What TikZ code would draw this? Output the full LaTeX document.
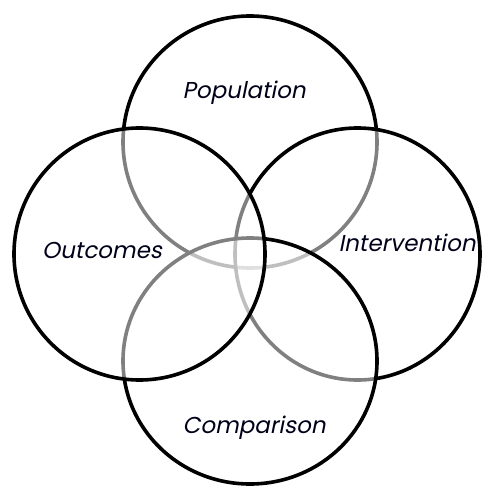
\documentclass[tikz,border=0pt]{standalone}
\usepackage{fontspec}
\usetikzlibrary{shapes.geometric}
\newfontfamily\labfont{Poppins}[FakeSlant=0.2]
\tikzset{
  venn/.style={ellipse, draw=black, line width=3.6pt, fill=white, fill opacity=0.5, inner sep=0pt, outer sep=0pt},
  lab/.style={font=\labfont\fontsize{23}{26}\selectfont, text=black!90!blue, inner sep=0pt}
}
\begin{document}
\begin{tikzpicture}[x=1pt,y=-1pt]
\useasboundingbox (0,0) rectangle (482,486);
\node[venn, minimum width=254pt, minimum height=252pt] (pop) at (250,142) {};
\node[venn, minimum width=245pt, minimum height=252pt] (int) at (357.5,254) {};
\node[venn, minimum width=254pt, minimum height=246pt] (com) at (250,361) {};
\node[venn, minimum width=251pt, minimum height=252pt] (out) at (139.5,254) {};
\node[lab] (tpop) at (244,93) {Population};
\node[lab] (tout) at (102,250) {Outcomes};
\node[lab] (tint) at (407,243) {Intervention};
\node[lab] (tcom) at (254,428) {Comparison};
\end{tikzpicture}
\end{document}
